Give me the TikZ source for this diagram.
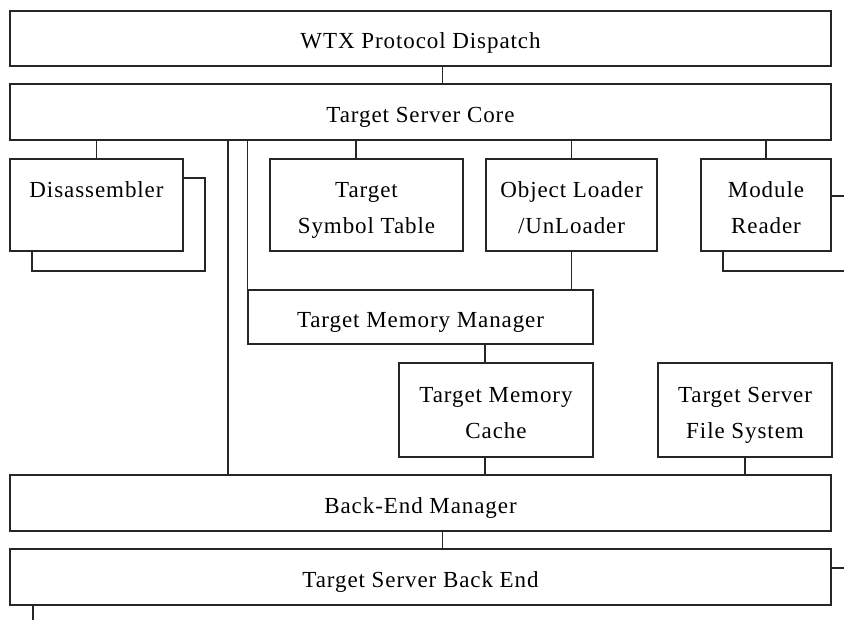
\documentclass[tikz,border=0pt]{standalone}
\usepackage{fontspec}
\setmainfont{Liberation Serif}[LetterSpace=4]
\begin{document}
\begin{tikzpicture}[x=1pt,y=-1pt,
  box/.style={draw=black!85, fill=white, line width=1.2pt, inner sep=0pt, align=center,
              font=\fontsize{23}{36}\selectfont, text=black, text height=21pt, text depth=0pt},
  twoline/.style={text height=57pt, text depth=0pt},
  link/.style={draw=black!85, line width=1.2pt}]
\useasboundingbox (0,0) rectangle (844,620);
\clip (0,0) rectangle (844,620);
\fill[white] (0,0) rectangle (844,620);

\node[box, minimum width=821pt, minimum height=55pt] (wtx) at (420.5,38.5) {WTX Protocol Dispatch};
\node[box, minimum width=821pt, minimum height=56pt] (core) at (420.5,112) {Target Server Core};

\node[box, minimum width=173pt, minimum height=93pt] (disback) at (118.5,224.5) {};
\node[box, twoline, minimum width=173pt, minimum height=92pt] (dis) at (96.5,205) {Disassembler\\\strut};
\node[box, twoline, minimum width=193pt, minimum height=92pt] (symtab) at (366.5,205) {Target\\Symbol Table};
\node[box, twoline, minimum width=171pt, minimum height=92pt] (objload) at (571.5,205) {Object Loader\\/UnLoader};
\node[box, minimum width=137pt, minimum height=75pt] (modback) at (791.5,233.5) {};
\node[box, twoline, minimum width=130pt, minimum height=92pt] (modread) at (766,205) {Module\\Reader};

\node[box, minimum width=345pt, minimum height=54pt] (tmm) at (420.5,317) {Target Memory Manager};
\node[box, twoline, minimum width=194pt, minimum height=94pt] (tmc) at (496,410) {Target Memory\\Cache};
\node[box, twoline, minimum width=174pt, minimum height=94pt] (tsfs) at (745,410) {Target Server\\File System};

\node[box, minimum width=821pt, minimum height=56pt] (bem) at (420.5,503) {Back-End Manager};
\node[box, minimum width=821pt, minimum height=56pt] (tsbe) at (420.5,577) {Target Server Back End};

\coordinate (xa) at (228,0);
\coordinate (xm) at (485,0);
\coordinate (xc) at (442.5,0);
\coordinate (xs) at (356,0);
\coordinate (rs) at (844,568);
\coordinate (bl) at (33,620);

\draw[link] (wtx.south -| xc) -- (core.north -| xc);
\draw[link] (core.south -| dis.north) -- (dis.north);
\draw[link] (core.south -| xs) -- (symtab.north -| xs);
\draw[link] (core.south -| objload.north) -- (objload.north);
\draw[link] (core.south -| modread.north) -- (modread.north);
\draw[link] (core.south -| xa) -- (bem.north -| xa);
\draw[link] (core.south -| tmm.north west) -- (tmm.north west);
\draw[link] (objload.south) -- (tmm.north -| objload.south);
\draw[link] (tmm.south -| xm) -- (tmc.north -| xm);
\draw[link] (tmc.south -| xm) -- (bem.north -| xm);
\draw[link] (tsfs.south) -- (bem.north -| tsfs.south);
\draw[link] (bem.south -| xc) -- (tsbe.north -| xc);
\draw[link] (tsbe.east |- rs) -- (rs);
\draw[link] (tsbe.south -| bl) -- (bl);
\end{tikzpicture}
\end{document}
